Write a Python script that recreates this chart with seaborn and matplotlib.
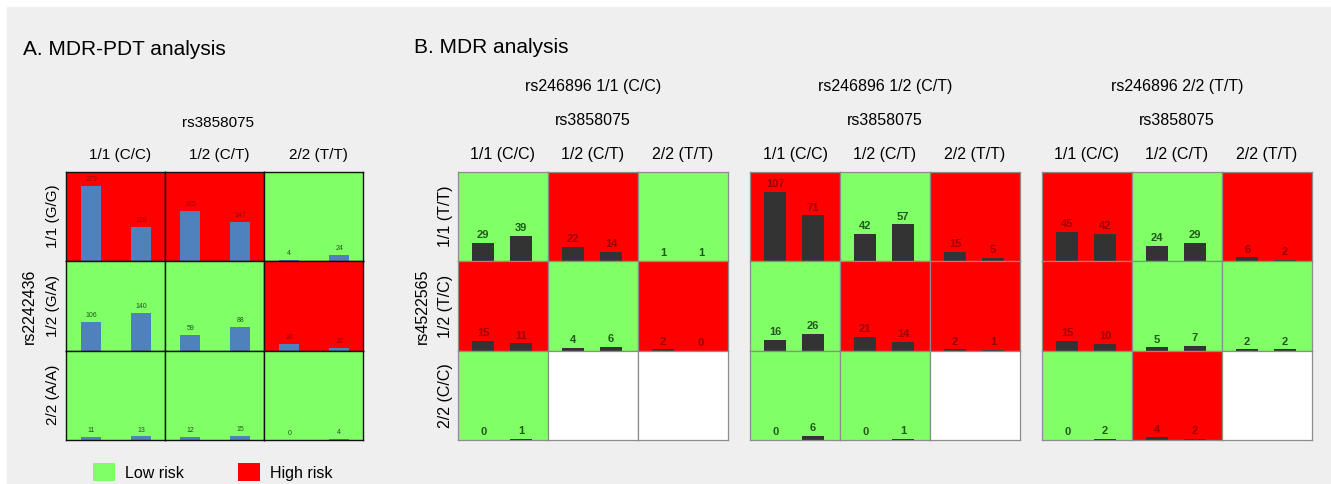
import matplotlib
matplotlib.use("Agg")
import matplotlib.pyplot as plt
from matplotlib.patches import Patch, Rectangle
import seaborn as sns

# ---- data ----
col_genotypes = ["1/1 (C/C)", "1/2 (C/T)", "2/2 (T/T)"]
a_rows = ["1/1 (G/G)", "1/2 (G/A)", "2/2 (A/A)"]
b_rows = ["1/1 (T/T)", "1/2 (T/C)", "2/2 (C/C)"]
b_titles = ["rs246896 1/1 (C/C)", "rs246896 1/2 (C/T)", "rs246896 2/2 (T/T)"]

A_first = [[279, 185, 4], [106, 59, 26], [11, 12, 0]]
A_second = [[128, 147, 24], [140, 88, 10], [13, 15, 4]]
A_risk = [["H", "H", "L"], ["L", "L", "H"], ["L", "L", "L"]]

B1_first = [[29, 22, 1], [15, 4, 2], [0, None, None]]
B1_second = [[39, 14, 1], [11, 6, 0], [1, None, None]]
B1_risk = [["L", "H", "L"], ["H", "L", "H"], ["L", "", ""]]

B2_first = [[107, 42, 15], [16, 21, 2], [0, 0, None]]
B2_second = [[71, 57, 5], [26, 14, 1], [6, 1, None]]
B2_risk = [["H", "L", "H"], ["L", "H", "H"], ["L", "L", ""]]

B3_first = [[45, 24, 6], [15, 5, 2], [0, 4, None]]
B3_second = [[42, 29, 2], [10, 7, 2], [2, 2, None]]
B3_risk = [["H", "L", "H"], ["H", "L", "L"], ["L", "H", ""]]

# ---- style ----
plt.rcParams["font.family"] = ["Liberation Sans", "DejaVu Sans"]
W, H = 1331, 484
GREEN, RED, WHITE = "#80ff66", "#ff0000", "#ffffff"
fills = {"H": RED, "L": GREEN, "": WHITE}
label_col = {"H": "#9a0000", "L": "#1f5a1a", "": "k"}

fig = plt.figure(figsize=(W / 100, H / 100), dpi=100)
fig.patches.append(Rectangle((7 / W, 0), 1, 1 - 7 / H, transform=fig.transFigure,
                             color="#efefef", zorder=-10))


def fx(x):
    return x / W


def fy(y):
    return 1 - y / H


def draw_cell(left, top, w, h, v1, v2, risk, bar_color, ymax, bw, span, lab_size,
              lab_weight, edge, lw):
    ax = fig.add_axes([fx(left), fy(top + h), w / W, h / H])
    ax.set_facecolor(fills[risk])
    if v1 is not None:
        sns.barplot(x=["a", "b"], y=[v1, v2], ax=ax, color=bar_color, width=bw,
                    errorbar=None, saturation=1)
        ax.bar_label(ax.containers[0], padding=2, fontsize=lab_size,
                     color=label_col[risk], fontweight=lab_weight)
    ax.set_xlim(*span)
    ax.set_ylim(0, ymax)
    ax.set_xticks([])
    ax.set_yticks([])
    ax.set_xlabel("")
    ax.set_ylabel("")
    for s in ax.spines.values():
        s.set_color(edge)
        s.set_linewidth(lw)
    return ax


# ---- panel A ----
a_left, a_top, a_cw, a_ch = 66, 172, 99, 89.3
for r in range(3):
    for c in range(3):
        draw_cell(a_left + c * a_cw, a_top + r * a_ch, a_cw, a_ch,
                  A_first[r][c], A_second[r][c], A_risk[r][c], "#4f81bd", 330, 0.4,
                  (-0.505, 1.475), 5, "normal", "#111111", 1.0)

fig.text(fx(23), fy(55), "A. MDR-PDT analysis", fontsize=15, va="baseline")
fig.text(fx(a_left + 1.5 * a_cw + 4), fy(123), "rs3858075", fontsize=11, ha="center", va="center")
for c, g in enumerate(col_genotypes):
    fig.text(fx(a_left + (c + 0.5) * a_cw + 5), fy(155), g, fontsize=11, ha="center", va="center")
for r, g in enumerate(a_rows):
    fig.text(fx(53), fy(a_top + (r + 0.5) * a_ch), g, fontsize=11, rotation=90,
             ha="center", va="center")
fig.text(fx(29), fy(a_top + 1.5 * a_ch), "rs2242436", fontsize=11.5, rotation=90,
         ha="center", va="center")

# ---- panel B ----
b_lefts = [458, 750, 1042]
b_top, b_cw, b_ch = 172, 90, 89.3
b_first = [B1_first, B2_first, B3_first]
b_second = [B1_second, B2_second, B3_second]
b_risk = [B1_risk, B2_risk, B3_risk]
for k, left in enumerate(b_lefts):
    for r in range(3):
        for c in range(3):
            draw_cell(left + c * b_cw, b_top + r * b_ch, b_cw, b_ch,
                      b_first[k][r][c], b_second[k][r][c], b_risk[k][r][c], "#333333",
                      138, 0.57, (-0.667, 1.714), 8, "bold", "#8c8c8c", 0.9)
    cx = left + 1.5 * b_cw
    fig.text(fx(cx), fy(87), b_titles[k], fontsize=11.5, ha="center", va="center")
    fig.text(fx(cx), fy(120), "rs3858075", fontsize=11.5, ha="center", va="center")
    for c, g in enumerate(col_genotypes):
        fig.text(fx(left + (c + 0.5) * b_cw), fy(155), g, fontsize=11.5,
                 ha="center", va="center")

fig.text(fx(414), fy(53), "B. MDR analysis", fontsize=15, va="baseline")
for r, g in enumerate(b_rows):
    fig.text(fx(445), fy(b_top + (r + 0.5) * b_ch), g, fontsize=11.5, rotation=90,
             ha="center", va="center")
fig.text(fx(422), fy(b_top + 1.5 * b_ch), "rs4522565", fontsize=11.5, rotation=90,
         ha="center", va="center")

# ---- legend ----
handles = [Patch(facecolor=GREEN, edgecolor="none"), Patch(facecolor=RED, edgecolor="none")]
fig.legend(handles, ["Low risk", "High risk"], ncol=2, frameon=False,
           loc="upper left", bbox_to_anchor=(fx(85), fy(455)), borderpad=0,
           fontsize=11.5, handlelength=1.4, handleheight=1.4, handletextpad=0.6,
           columnspacing=3.4)

fig.savefig("out.png", dpi=100)
